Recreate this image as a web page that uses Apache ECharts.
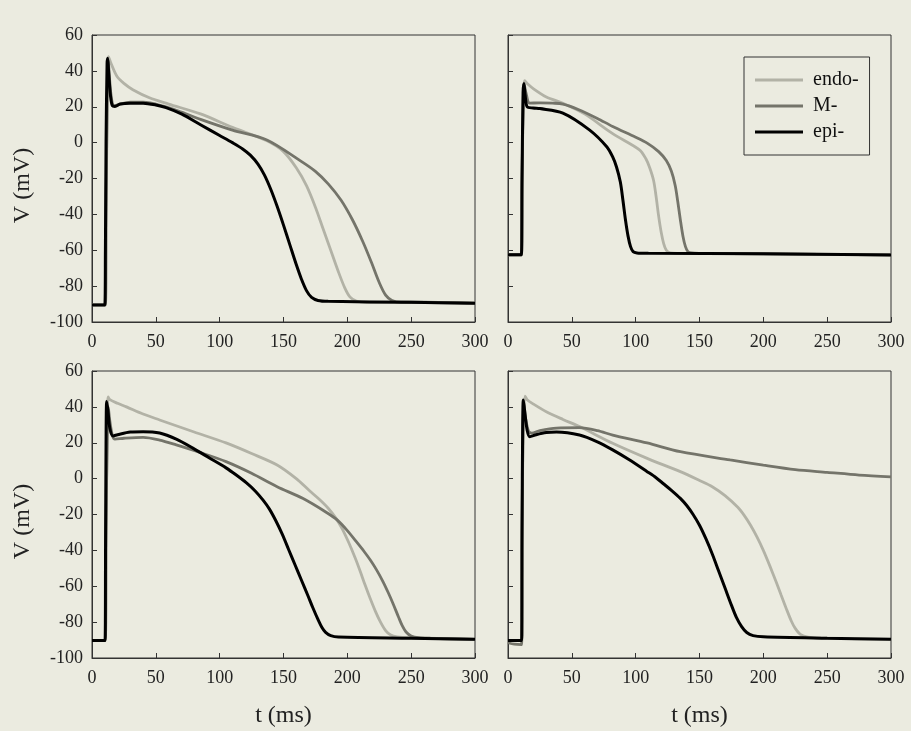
<!DOCTYPE html>
<html>
<head>
<meta charset="utf-8">
<script src="https://cdn.jsdelivr.net/npm/echarts@6/dist/echarts.min.js"></script>
<style>
html,body{margin:0;padding:0;background:#ebebe0;}
#chart{width:911px;height:731px;}
</style>
</head>
<body>
<div id="chart"></div>
<script>
// Panel A (top-left)
var A_endo = [[0,-90.5],[10.5,-90.5],[11,-40],[12,20],[13,48],[15,44],[19.5,37],[25,33],[32,29.5],[45,25],[60,21.5],[85,16],[110,8.5],[137,1],[150,-5],[160,-14],[168,-24],[175,-36],[181,-48],[187,-60],[193,-72],[198,-81],[202,-86],[207,-88.3],[215,-89],[250,-89],[300,-89.5]];
var A_M = [[0,-90.5],[10.5,-90.5],[11,-40],[12,30],[12.7,46],[13.5,38],[15,26],[17,20.5],[20,21],[30,22.5],[40,22.5],[55,20.5],[70,17],[85,13],[110,7],[137,1.5],[163,-10],[175,-16],[185,-23],[195,-32],[204,-43],[212,-55],[219,-67],[225,-78],[230,-85],[235,-88],[242,-89],[260,-89],[300,-89.5]];
var A_epi = [[0,-90.5],[10,-90.5],[10.5,-60],[11,0],[11.8,44],[12.3,47],[13,40],[14.5,26],[16,20.5],[18,20.2],[22,21.5],[30,22],[40,22],[50,21],[58,19.5],[70,16],[85,10],[100,4],[110,0],[118,-3.5],[124,-7],[130,-12],[135,-18],[140,-26],[145,-35.5],[150,-46],[155,-57],[160,-68],[164,-76],[168,-82.5],[172,-86.3],[177,-88],[185,-88.5],[250,-89],[300,-89.5]];
// Panel B (top-right)
var B_endo = [[0,-62.5],[10.5,-62.5],[11,-20],[12,20],[13,34.5],[15,33],[20,30],[30,25.5],[43,22],[60,16],[82,5],[103,-4],[108,-9],[111,-14],[114,-21],[116,-30],[118,-41],[120,-50],[122,-56.5],[124,-60],[127,-61.4],[133,-61.7],[200,-62],[300,-62.6]];
var B_M = [[0,-62.5],[10.5,-62.5],[11,-20],[12,25],[12.8,32],[14,28],[17,22],[25,22.2],[35,22],[43,21.5],[55,18.5],[70,13.5],[82,9],[100,3],[109,-0.3],[118,-5],[124,-10],[128,-16],[131,-24],[133,-33],[135,-43],[137,-52],[139,-58],[141,-60.8],[144,-61.5],[150,-61.7],[200,-62],[300,-62.6]];
var B_epi = [[0,-62.5],[10.5,-62.5],[11,-20],[11.8,28],[12.5,33],[13.5,26],[15,20],[19.6,19.3],[25,19],[43,16.5],[64,7],[77.5,-2.4],[82,-8],[85,-13.6],[88,-22],[90,-32],[92,-43],[94,-52],[96,-58],[98,-60.8],[101,-61.5],[110,-61.7],[200,-62],[300,-62.6]];
// Panel C (bottom-left)
var C_endo = [[0,-90.3],[10.4,-90.3],[11,-30],[12,30],[12.6,45.5],[14,44],[20,42],[27,40],[40,36],[53,32.7],[80,26],[105,19.9],[125,14],[145,7.6],[160,0],[170,-6.5],[178,-11.5],[185,-16.5],[191,-22],[196,-28],[201,-35.5],[206,-44],[210,-51.5],[214,-59.5],[218,-67],[222,-74],[226,-80],[230,-84.7],[234,-87.2],[239,-88.2],[248,-88.7],[300,-89.6]];
var C_M = [[0,-90.3],[10.4,-90.3],[11,-30],[12,25],[12.7,40],[14,32],[16,24],[18,22],[25,22.5],[40,23],[53,21.5],[66,18.8],[85,14.5],[105,9.5],[125,3],[145,-4.5],[165,-11],[184,-19],[192,-23],[199.5,-28.6],[208,-36],[213,-40.5],[218,-45.4],[223,-51],[228,-57.5],[232,-63.5],[236,-70],[240,-77],[243,-82],[246,-85.5],[250,-87.7],[256,-88.7],[265,-89],[300,-89.6]];
var C_epi = [[0,-90.3],[10.2,-90.3],[10.6,-40],[11,20],[11.5,43],[12.5,38],[14,28],[16.5,23.8],[20,24.5],[30,26],[40,26.2],[53,25.4],[66,22],[79,17],[92,11.5],[105,6],[113,2],[121,-2.4],[128,-7],[134,-12],[139,-17],[144,-23.5],[149,-31],[154,-39.5],[159,-48],[164,-56.5],[169,-65],[173,-72],[177,-78.5],[180,-82.8],[183,-85.7],[187,-87.5],[193,-88.3],[250,-89],[300,-89.6]];
// Panel D (bottom-right)
var D_endo = [[0,-90.3],[10.7,-90.3],[11,-30],[12,30],[13.3,46],[15,44],[20,41.5],[30,37.3],[43,33],[56,29],[82,19.7],[109,11.3],[135,3.9],[150,-1],[160,-4.5],[170,-9.5],[180,-16],[185,-20.5],[190,-26],[195,-32.5],[200,-40],[205,-48.5],[210,-57.5],[214,-65],[218,-72.5],[222,-79.5],[225,-83.5],[229,-86.8],[235,-88.3],[245,-88.8],[300,-89.6]];
var D_M = [[0,-91.5],[5,-92.3],[10.7,-92.5],[11,-30],[11.8,30],[12.5,42],[13.5,35],[16,26.5],[18.5,25.4],[25,26.8],[38,28.2],[56,28.4],[70,26.8],[82,24.3],[109,19.9],[135,15],[174,10.4],[200,7.5],[225,5],[250,3.5],[275,2],[300,1]];
var D_epi = [[0,-90.3],[10.7,-90.3],[11,-30],[11.5,30],[12,43.8],[13,38],[15,27],[17,23.4],[22,24.5],[30,25.7],[38,26],[56,24.3],[70,20.5],[82,16],[95,10.5],[109,3.9],[116,0.5],[122,-3],[128,-6.5],[135,-11],[140,-15],[145,-20],[150,-26],[155,-33.5],[160,-42],[165,-51.5],[170,-61],[175,-70.5],[179,-77.5],[183,-82.5],[187,-85.8],[192,-87.5],[200,-88.2],[250,-89],[300,-89.6]];

var seriesNames = ['endo-','M-','epi-'];
var seriesColors = ['#b2b2a6','#74746a','#000000'];
var xTicks = {min:0,max:300,interval:50};
var yTicks = {min:-100,max:60,interval:20};
var xTitle = 't (ms)';
var yTitle = 'V (mV)';

var panels = [
  {data:[A_endo,A_M,A_epi], left:92, top:35, yLabels:true, xName:false},
  {data:[B_endo,B_M,B_epi], left:508, top:35, yLabels:false, xName:false},
  {data:[C_endo,C_M,C_epi], left:92, top:371, yLabels:true, xName:true},
  {data:[D_endo,D_M,D_epi], left:508, top:371, yLabels:false, xName:true}
];
var FONT = '"Liberation Serif", "DejaVu Serif", serif';
var grids=[], xAxes=[], yAxes=[], series=[];
panels.forEach(function(p,i){
  grids.push({left:p.left, top:p.top, width:383, height:287, show:true, borderColor:'#333', borderWidth:1, backgroundColor:'transparent'});
  xAxes.push({type:'value', gridIndex:i, min:xTicks.min, max:xTicks.max, interval:xTicks.interval,
    axisLine:{show:true, onZero:false, lineStyle:{color:'#333',width:1}},
    axisTick:{show:true, inside:true, length:5, lineStyle:{color:'#333'}},
    splitLine:{show:false},
    axisLabel:{show:true, margin:11, fontFamily:FONT, fontSize:18, color:'#222'},
    name: p.xName ? xTitle : '', nameLocation:'middle', nameGap:46,
    nameTextStyle:{fontFamily:FONT, fontSize:24, color:'#222'}});
  yAxes.push({type:'value', gridIndex:i, min:yTicks.min, max:yTicks.max, interval:yTicks.interval,
    axisLine:{show:true, onZero:false, lineStyle:{color:'#333',width:1}},
    axisTick:{show:true, inside:true, length:5, lineStyle:{color:'#333'}},
    splitLine:{show:false},
    axisLabel:{show:p.yLabels, margin:9, fontFamily:FONT, fontSize:18, color:'#222'},
    name: p.yLabels ? yTitle : '', nameLocation:'middle', nameGap:57,
    nameTextStyle:{fontFamily:FONT, fontSize:24, color:'#222', padding:[0,14,0,0]}});
  p.data.forEach(function(d,k){
    series.push({type:'line', name:seriesNames[k], xAxisIndex:i, yAxisIndex:i, data:d,
      showSymbol:false, smooth:0.3, z:2+k,
      lineStyle:{color:seriesColors[k], width:k===2?3:2.8},
      itemStyle:{color:seriesColors[k]}});
  });
});

var chart = echarts.init(document.getElementById('chart'));
chart.setOption({
  backgroundColor:'#ebebe0',
  animation:false,
  grid:grids, xAxis:xAxes, yAxis:yAxes, series:series,
  legend:{data:seriesNames, orient:'vertical', left:744, top:57,
    padding:[13,11,13,11], borderColor:'#333', borderWidth:1,
    itemWidth:48, itemHeight:3, itemGap:6, icon:'rect',
    textStyle:{fontFamily:FONT, fontSize:20, color:'#111', padding:[0,0,0,5]}, selectedMode:false}
});
</script>
</body>
</html>
